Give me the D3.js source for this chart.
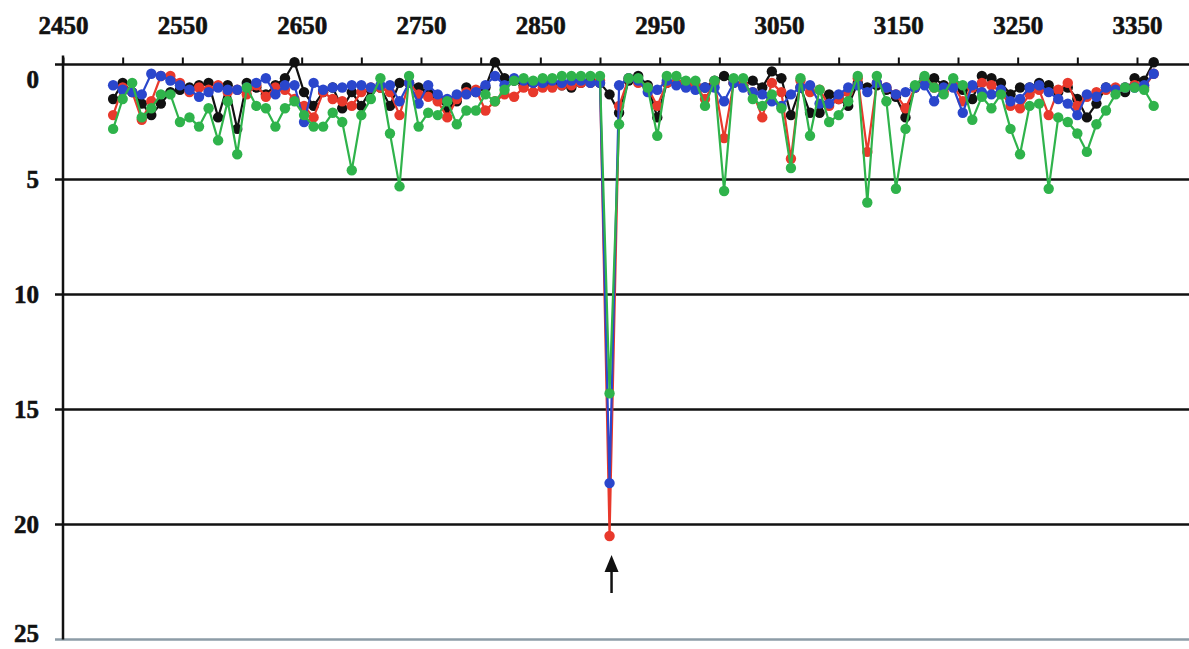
<!DOCTYPE html>
<html>
<head>
<meta charset="utf-8">
<script src="https://cdn.jsdelivr.net/npm/d3@7"></script>
<style>
  body { margin: 0; background: #fff; }
  svg { display: block; }
</style>
</head>
<body>
<svg id="chart" width="1189" height="649"></svg>
<script>
// wavenumber of each measured point
const wavenumber = [
  2492, 2500, 2508, 2516, 2524, 2532, 2540, 2548, 2556, 2564,
  2572, 2580, 2588, 2596, 2604, 2612, 2620, 2628, 2636, 2644,
  2652, 2660, 2668, 2676, 2684, 2692, 2700, 2708, 2716, 2724,
  2732, 2740, 2748, 2756, 2764, 2772, 2780, 2788, 2796, 2804,
  2812, 2820, 2828, 2836, 2844, 2852, 2860, 2868, 2876, 2884,
  2892, 2900, 2908, 2916, 2924, 2932, 2940, 2948, 2956, 2964,
  2972, 2980, 2988, 2996, 3004, 3012, 3020, 3028, 3036, 3044,
  3052, 3060, 3068, 3076, 3084, 3092, 3100, 3108, 3116, 3124,
  3132, 3140, 3148, 3156, 3164, 3172, 3180, 3188, 3196, 3204,
  3212, 3220, 3228, 3236, 3244, 3252, 3260, 3268, 3276, 3284,
  3292, 3300, 3308, 3316, 3324, 3332, 3340, 3348, 3356, 3364
];

const blackValues = [
  1.5, 0.8, 1.2, 1.7, 2.2, 1.7, 1.2, 1.1, 1.0, 0.9,
  0.8, 2.3, 0.9, 2.8, 0.8, 1.0, 1.3, 0.9, 0.6, -0.1,
  1.2, 1.8, 1.2, 1.0, 1.9, 1.2, 1.8, 1.1, 1.0, 1.8,
  0.8, 0.8, 1.0, 1.2, 1.5, 1.9, 1.6, 1.0, 1.2, 1.0,
  -0.1, 0.6, 0.7, 0.9, 0.8, 0.7, 0.9, 0.9, 1.0, 0.8,
  0.7, 0.8, 1.3, 2.1, 0.7, 0.5, 0.9, 2.3, 0.8, 0.8,
  0.8, 0.9, 1.0, 0.7, 0.5, 0.8, 0.9, 0.7, 1.0, 0.3,
  0.6, 2.2, 1.0, 2.1, 2.1, 1.3, 1.5, 1.8, 0.8, 1.0,
  0.9, 1.1, 1.4, 2.3, 1.0, 0.6, 0.6, 0.9, 0.9, 1.1,
  1.5, 0.5, 0.6, 0.8, 1.3, 1.0, 1.0, 0.8, 0.9, 1.2,
  1.0, 1.5, 2.3, 1.7, 1.0, 1.1, 1.2, 0.6, 0.7, -0.1
];

const redValues = [
  2.2, 1.0, 1.2, 2.4, 1.6, 0.5, 0.5, 0.8, 1.2, 1.0,
  1.1, 0.9, 1.2, 1.1, 1.3, 0.9, 1.4, 1.0, 1.1, 1.5,
  1.8, 2.3, 1.2, 1.5, 1.6, 1.8, 1.2, 1.0, 1.0, 1.2,
  2.2, 0.8, 1.3, 1.4, 1.6, 2.3, 1.5, 1.2, 1.1, 2.0,
  1.6, 1.3, 1.4, 1.0, 1.2, 1.0, 1.0, 0.9, 0.9, 0.8,
  0.8, 0.7, 20.5, 1.8, 0.6, 0.8, 1.0, 1.8, 0.8, 0.8,
  0.8, 0.9, 1.5, 0.8, 3.2, 0.8, 0.9, 1.2, 2.3, 0.8,
  1.2, 4.1, 0.7, 1.2, 1.1, 1.8, 1.5, 1.2, 0.6, 3.8,
  0.8, 1.0, 1.3, 1.9, 1.0, 0.7, 1.0, 1.2, 0.9, 1.6,
  1.0, 0.8, 0.9, 1.2, 1.8, 1.9, 1.3, 1.1, 2.2, 1.1,
  0.8, 1.8, 1.4, 1.2, 1.1, 1.0, 1.0, 0.9, 1.0, 0.4
];

const blueValues = [
  0.9, 1.1, 1.2, 1.3, 0.4, 0.5, 0.7, 0.9, 1.1, 1.4,
  1.2, 1.0, 1.1, 1.1, 1.0, 0.8, 0.6, 1.3, 0.9, 0.9,
  2.5, 0.8, 1.1, 1.0, 1.0, 0.9, 0.9, 1.0, 0.9, 0.9,
  1.6, 0.8, 1.7, 0.9, 1.3, 1.5, 1.3, 1.3, 1.2, 0.9,
  0.5, 0.9, 0.6, 0.7, 0.8, 0.8, 0.7, 0.8, 0.7, 0.7,
  0.8, 0.8, 18.2, 0.9, 0.6, 0.7, 1.2, 1.1, 0.7, 0.9,
  1.0, 1.1, 1.0, 1.0, 1.6, 0.8, 1.0, 1.2, 1.3, 1.6,
  1.8, 1.3, 1.0, 0.9, 1.7, 1.7, 1.3, 1.0, 0.9, 1.2,
  0.8, 1.0, 1.3, 1.2, 1.0, 0.9, 1.6, 1.0, 1.0, 2.1,
  0.9, 1.2, 1.3, 1.1, 1.6, 1.5, 1.0, 0.9, 1.2, 1.5,
  1.7, 2.2, 1.3, 1.4, 1.0, 1.1, 1.0, 1.0, 0.9, 0.4
];

const greenValues = [
  2.8, 1.5, 0.8, 2.3, 1.9, 1.3, 1.3, 2.5, 2.3, 2.7,
  1.9, 3.3, 1.6, 3.9, 1.0, 1.8, 1.9, 2.7, 1.9, 1.6,
  2.2, 2.7, 2.7, 2.1, 2.5, 4.6, 2.2, 1.5, 0.6, 3.0,
  5.3, 0.5, 2.7, 2.1, 2.2, 1.6, 2.6, 2.0, 2.0, 1.3,
  1.6, 1.1, 0.7, 0.6, 0.7, 0.6, 0.6, 0.5, 0.5, 0.5,
  0.5, 0.5, 14.3, 2.6, 0.6, 0.6, 1.0, 3.1, 0.5, 0.5,
  0.7, 0.7, 1.8, 0.7, 5.5, 0.6, 0.6, 1.5, 1.8, 1.3,
  1.9, 4.5, 0.6, 3.1, 1.1, 2.5, 2.2, 1.6, 0.5, 6.0,
  0.5, 1.6, 5.4, 2.8, 0.9, 0.5, 1.0, 1.3, 0.6, 0.9,
  2.4, 1.4, 1.9, 1.3, 2.8, 3.9, 1.8, 1.7, 5.4, 2.3,
  2.5, 3.0, 3.8, 2.6, 2.0, 1.3, 1.0, 1.0, 1.1, 1.8
];

const xTicks = [2450, 2500, 2550, 2600, 2650, 2700, 2750, 2800, 2850, 2900,
                2950, 3000, 3050, 3100, 3150, 3200, 3250, 3300, 3350];
const xLabels = [2450, 2550, 2650, 2750, 2850, 2950, 3050, 3150, 3250, 3350];
const yTicks = [0, 5, 10, 15, 20, 25];

const svg = d3.select("#chart");
const width = +svg.attr("width");
const height = +svg.attr("height");
const margin = { top: 64.5, right: 52, bottom: 9.5, left: 63 };
const labelFont = "'Liberation Serif', 'Times New Roman', serif";

const x = d3.scaleLinear()
  .domain([2450, 3350])
  .range([margin.left, width - margin.right]);

// depth axis runs downward: 0 at top, 25 at bottom
const y = d3.scaleLinear()
  .domain([0, 25])
  .range([margin.top, height - margin.bottom]);

svg.append("rect")
  .attr("width", width)
  .attr("height", height)
  .attr("fill", "#fff");

// horizontal grid lines (with the small tick stub left of the axis)
svg.append("g")
  .selectAll("line")
  .data(yTicks)
  .join("line")
    .attr("x1", margin.left - 8)
    .attr("x2", width)
    .attr("y1", d => y(d))
    .attr("y2", d => y(d))
    .attr("stroke", d => d === 25 ? "#8d9ca7" : "#111")
    .attr("stroke-width", 2.5);

// vertical axis line
svg.append("line")
  .attr("x1", margin.left)
  .attr("x2", margin.left)
  .attr("y1", y(0) - 9)
  .attr("y2", y(25))
  .attr("stroke", "#111")
  .attr("stroke-width", 2.5);

// top axis: ticks every 50, labels every 100
const xAxis = svg.append("g")
  .attr("transform", `translate(0,${y(0)})`)
  .call(d3.axisTop(x)
    .tickValues(xTicks)
    .tickSize(7)
    .tickPadding(24)
    .tickFormat(d => xLabels.includes(d) ? d : ""));
xAxis.select(".domain").remove();
xAxis.selectAll(".tick line")
  .attr("stroke", "#111")
  .attr("stroke-width", 2);
xAxis.selectAll("text")
  .attr("fill", "#111")
  .attr("stroke", "#111")
  .attr("stroke-width", 0.6)
  .attr("font-family", labelFont)
  .attr("font-weight", "bold")
  .attr("font-size", "25px");

// y labels ("0" sits a little below its line, "25" is kept inside the frame)
svg.append("g")
  .selectAll("text")
  .data(yTicks)
  .join("text")
    .attr("x", margin.left - 24)
    .attr("y", d => y(d) + (d === 0 ? 15 : 0) - (d === 25 ? 6 : 0))
    .attr("dy", "0.35em")
    .attr("text-anchor", "end")
    .attr("fill", "#111")
    .attr("stroke", "#111")
    .attr("stroke-width", 0.6)
    .attr("font-family", labelFont)
    .attr("font-weight", "bold")
    .attr("font-size", "25px")
    .text(d => d);

// series
const series = [
  { name: "black", color: "#111111", values: blackValues },
  { name: "red", color: "#e8392c", values: redValues },
  { name: "blue", color: "#2a46cc", values: blueValues },
  { name: "green", color: "#2fb34b", values: greenValues }
];

const line = d3.line()
  .x((d, i) => x(wavenumber[i]))
  .y(d => y(d));

series.forEach(s => {
  const g = svg.append("g").attr("class", "series-" + s.name);
  g.append("path")
    .datum(s.values)
    .attr("fill", "none")
    .attr("stroke", s.color)
    .attr("stroke-width", 2.2)
    .attr("stroke-linejoin", "round")
    .attr("d", line);
  g.selectAll("circle")
    .data(s.values)
    .join("circle")
      .attr("cx", (d, i) => x(wavenumber[i]))
      .attr("cy", d => y(d))
      .attr("r", 5.2)
      .attr("fill", s.color);
});

// arrow under the deepest point
const dipIndex = d3.maxIndex(redValues);
const ax = x(wavenumber[dipIndex]) + 2;
const tipY = y(redValues[dipIndex]) + 19;
svg.append("line")
  .attr("x1", ax)
  .attr("x2", ax)
  .attr("y1", tipY + 10)
  .attr("y2", tipY + 38)
  .attr("stroke", "#111")
  .attr("stroke-width", 2.5);
svg.append("path")
  .attr("d", `M${ax},${tipY} L${ax - 7},${tipY + 17} L${ax + 7},${tipY + 17} Z`)
  .attr("fill", "#111");
</script>
</body>
</html>
